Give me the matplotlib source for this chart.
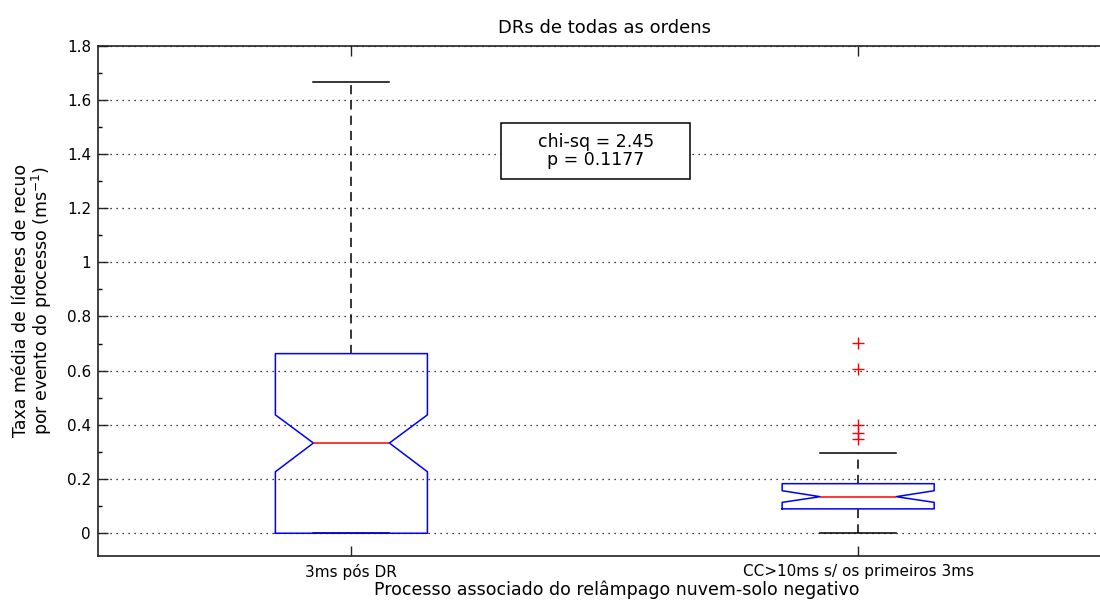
import matplotlib
matplotlib.use("Agg")
import matplotlib.pyplot as plt
from matplotlib.patches import Rectangle
from matplotlib.ticker import MultipleLocator

plt.rcParams['font.family'] = ['DejaVu Sans']

# box statistics for each process group
groups = ['3ms pós DR', 'CC>10ms s/ os primeiros 3ms']
q1 = [0.0, 0.090]
q3 = [0.663, 0.183]
medians = [0.333, 0.135]
ci_low = [0.227, 0.114]
ci_high = [0.437, 0.157]
whisker_low = [0.0, 0.0]
whisker_high = [1.667, 0.297]
outliers = [[], [0.347, 0.369, 0.400, 0.605, 0.701]]

chi_sq = 2.45
p_value = 0.1177

stats = []
for i, name in enumerate(groups):
    stats.append({
        'label': name,
        'med': medians[i],
        'q1': q1[i],
        'q3': q3[i],
        'cilo': ci_low[i],
        'cihi': ci_high[i],
        'whislo': whisker_low[i],
        'whishi': whisker_high[i],
        'fliers': outliers[i],
    })

fig = plt.figure(figsize=(11, 6), dpi=100)
ax = fig.add_axes([0.0891, 0.0733, 0.9214, 0.8508])

dash = (0, (6, 4))
ax.bxp(stats, positions=[1, 2], widths=0.3, shownotches=True,
       boxprops=dict(color='blue', linewidth=1.1, zorder=4),
       medianprops=dict(color='red', linewidth=1.1, zorder=5),
       whiskerprops=dict(color='black', linewidth=1.1, linestyle=dash, zorder=3),
       capprops=dict(color='black', linewidth=1.1, zorder=3),
       flierprops=dict(marker='+', markeredgecolor='red', markersize=8,
                       markeredgewidth=1.0, linestyle='none'))

ax.set_xlim(0.5, 2.5)
ax.set_ylim(-0.084, 1.8)
ax.yaxis.set_minor_locator(MultipleLocator(0.1))
ax.set_yticks([0, 0.2, 0.4, 0.6, 0.8, 1.0, 1.2, 1.4, 1.6, 1.8])
ax.set_yticklabels(['0', '0.2', '0.4', '0.6', '0.8', '1', '1.2', '1.4', '1.6', '1.8'])
ax.set_xticks([1, 2])
ax.set_xticklabels(groups)

ax.tick_params(axis='both', which='major', direction='in', length=7, width=1,
               top=True, right=True, color='#222222')
ax.tick_params(axis='y', which='minor', direction='in', length=3, width=1,
               right=True)
ax.tick_params(axis='x', which='major', labelsize=11, pad=6)
ax.tick_params(axis='y', which='major', labelsize=11, pad=5)

for side in ['left', 'bottom', 'top', 'right']:
    ax.spines[side].set_linewidth(1.2)
    ax.spines[side].set_color('#222222')

ax.yaxis.grid(True, which='major', color='black', linestyle=(0, (1, 3.8)),
              linewidth=0.9)
ax.set_axisbelow(True)

ax.set_title('DRs de todas as ordens', fontsize=13, pad=9)
ax.set_ylabel('Taxa média de líderes de recuo\npor evento do processo (ms$^{-1}$)',
              fontsize=12.5, linespacing=1.0, va='center')
ax.yaxis.set_label_coords(-0.064, 0.5)
ax.set_xlabel('Processo associado do relâmpago nuvem-solo negativo',
              fontsize=12.5)
ax.xaxis.set_label_coords(0.512, -0.047)

# test statistic box
ax.add_patch(Rectangle((1.296, 1.306), 0.373, 0.209, facecolor='white',
                       edgecolor='black', linewidth=1.1, zorder=5))
ax.text(1.482, 1.41, f'chi-sq = {chi_sq:.2f}\np = {p_value:.4f}',
        ha='center', va='center', fontsize=12.5, zorder=6, linespacing=1.0)

fig.savefig('out.png', dpi=100)
